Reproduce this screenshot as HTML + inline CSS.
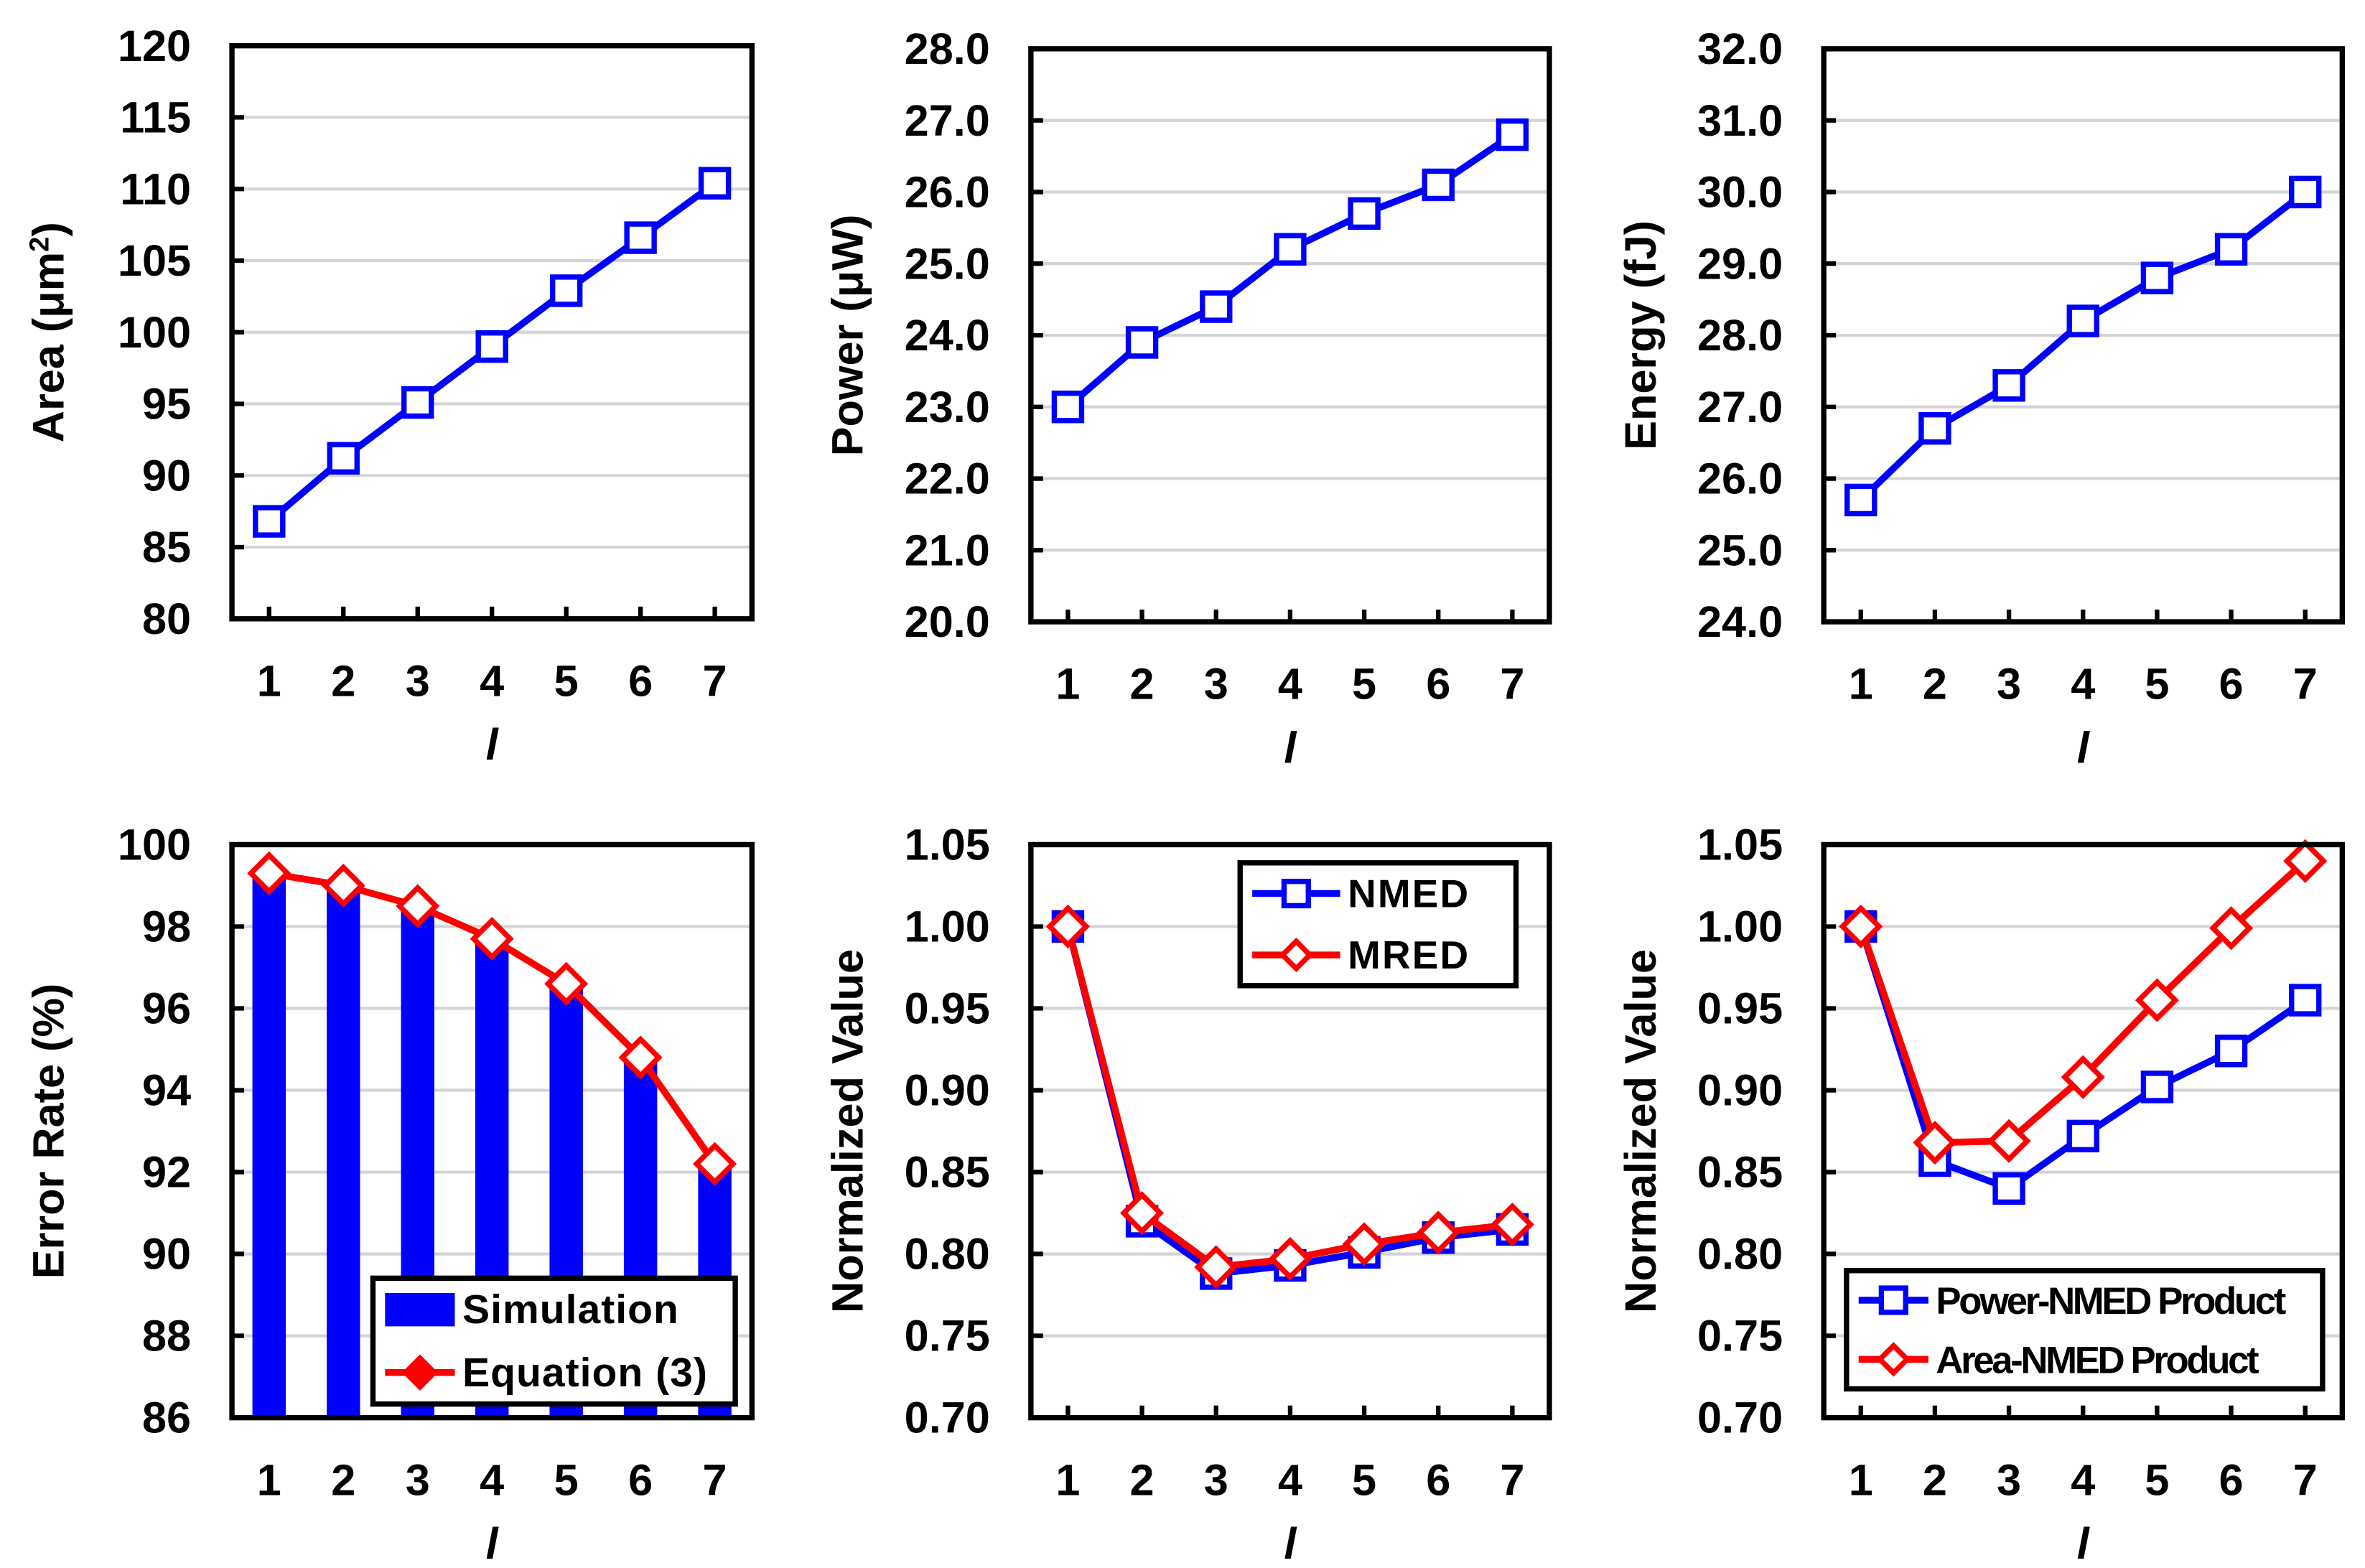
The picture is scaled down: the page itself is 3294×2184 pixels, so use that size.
<!DOCTYPE html>
<html><head><meta charset="utf-8"><style>
html,body{margin:0;padding:0;background:#fff;}
svg{display:block;font-family:"Liberation Sans",Arial,sans-serif;font-weight:bold;}
</style></head><body>
<svg id="fig" xmlns="http://www.w3.org/2000/svg" width="3294" height="2184" viewBox="0 0 1560 1034"></svg>
<script>
const cats = [1,2,3,4,5,6,7];
const areaVals = [86.8,91.2,95.1,99.0,102.9,106.6,110.4];
const areaTicks = ["80","85","90","95","100","105","110","115","120"];
const powerVals = [23.0,23.9,24.4,25.2,25.7,26.1,26.8];
const powerTicks = ["20.0","21.0","22.0","23.0","24.0","25.0","26.0","27.0","28.0"];
const energyVals = [25.7,26.7,27.3,28.2,28.8,29.2,30.0];
const energyTicks = ["24.0","25.0","26.0","27.0","28.0","29.0","30.0","31.0","32.0"];
const simVals = [99.2,98.9,98.4,97.6,96.5,94.7,92.1];
const eqVals = [99.3,99.0,98.5,97.7,96.6,94.8,92.2];
const errTicks = ["86","88","90","92","94","96","98","100"];
const nmedVals = [1.0,0.820,0.788,0.793,0.801,0.810,0.815];
const mredVals = [1.0,0.825,0.792,0.797,0.806,0.813,0.818];
const normTicks = ["0.70","0.75","0.80","0.85","0.90","0.95","1.00","1.05"];
const pnVals = [1.0,0.857,0.840,0.872,0.902,0.924,0.955];
const anVals = [1.0,0.868,0.869,0.908,0.955,0.999,1.040];

const NS="http://www.w3.org/2000/svg";
const svg=document.getElementById('fig');
function mk(tag,attrs,parent,text){const e=document.createElementNS(NS,tag);for(const k in attrs)e.setAttribute(k,attrs[k]);if(text!==undefined)e.textContent=text;(parent||svg).appendChild(e);return e;}

function chart(o){
  const g=mk('g',{});
  
  
  const L=o.x0,R=o.x1,T=o.y0,B=o.y1;
  const tv=o.ticks.map(Number);const mn=tv[0],mx=tv[tv.length-1];
  const ys=v=>B-(v-mn)/(mx-mn)*(B-T);
  const step=(R-L)/cats.length;
  const xs=i=>L+step*(i+0.5);
  o.ticks.forEach((t,i)=>{
    const y=ys(tv[i]);
    if(i>0&&i<o.ticks.length-1){const gl=mk('line',{x1:L,x2:R,y1:y,y2:y,stroke:'#d4d4d4','stroke-width':2},g);
      }
    const tk=mk('line',{x1:L,x2:L+8,y1:y,y2:y,stroke:'#000','stroke-width':3},g);
    
    const tl=mk('text',{x:L-27,y:y+10,'text-anchor':'end','font-size':29},g,t);
    
  });
  cats.forEach((c,i)=>{
    const tk=mk('line',{x1:xs(i),x2:xs(i),y1:B,y2:B-8,stroke:'#000','stroke-width':3},g);
    
    const tl=mk('text',{x:xs(i),y:B+51,'text-anchor':'middle','font-size':29},g,String(c));
    
  });
  const xt=mk('text',{x:(L+R)/2,y:B+93,'text-anchor':'middle','font-size':29,'font-style':'italic'},g,'l');
  
  const yt=mk('text',{x:0,y:0,'text-anchor':'middle','font-size':29,transform:`translate(${L-111},${(T+B)/2}) rotate(-90)`},g);
  
  yt.innerHTML=o.ytitle;
  if(o.bars){o.bars.forEach((v,i)=>{const b=mk('rect',{x:xs(i)-11,y:ys(v),width:22,height:B-ys(v),fill:'#0000ff'},g);
    });}
  (o.series||[]).forEach(s=>{
    const pts=s.vals.map((v,i)=>xs(i)+','+ys(v)).join(' ');
    const pl=mk('polyline',{points:pts,fill:'none',stroke:s.color,'stroke-width':4.5,'stroke-linejoin':'round'},g);
    
    s.vals.forEach((v,i)=>{
      let m;
      if(s.marker==='sq') m=mk('rect',{x:xs(i)-9,y:ys(v)-9,width:18,height:18,fill:'#fff',stroke:s.color,'stroke-width':3.5},g);
      else {const x=xs(i),y=ys(v),r=12;m=mk('polygon',{points:`${x},${y-r} ${x+r},${y} ${x},${y+r} ${x-r},${y}`,fill:'#fff',stroke:s.color,'stroke-width':3.5},g);}
      
    });
  });
  const fr=mk('rect',{x:L,y:T,width:R-L,height:B-T,fill:'none',stroke:'#000','stroke-width':3.5},g);
  
  if(o.legend){const lg=o.legend;
    const lgG=mk('g',{},g);
    mk('rect',{x:lg.x,y:lg.y,width:lg.w,height:lg.h,fill:'#fff',stroke:'#000','stroke-width':3.5},lgG);
    lg.items.forEach((it,k)=>{
      const cy=lg.y+lg.h*(k*2+1)/4;
      const eG=mk('g',{},lgG);
      const x1=lg.x+8,x2=lg.x+lg.sw;
      if(it.type==='bar') mk('rect',{x:x1,y:cy-11,width:x2-x1,height:22,fill:it.color},eG);
      else{ mk('line',{x1:x1,x2:x2,y1:cy,y2:cy,stroke:it.color,'stroke-width':4.5},eG);
        const mx2=(x1+x2)/2;
        if(it.type==='sq') mk('rect',{x:mx2-8,y:cy-8,width:16,height:16,fill:'#fff',stroke:it.color,'stroke-width':3.5},eG);
        else if(it.type==='dfill') mk('polygon',{points:`${mx2},${cy-12} ${mx2+12},${cy} ${mx2},${cy+12} ${mx2-12},${cy}`,fill:it.color},eG);
        else mk('polygon',{points:`${mx2},${cy-9} ${mx2+9},${cy} ${mx2},${cy+9} ${mx2-9},${cy}`,fill:'#fff',stroke:it.color,'stroke-width':3.5},eG);}
      mk('text',{x:x2+5,y:cy+9,'font-size':lg.fs,'letter-spacing':lg.ls||0},eG,it.label);
    });
  }
}
chart({name:'area-chart',x0:153,x1:496,y0:30,y1:408,ticks:areaTicks,ytitle:'Area (μm<tspan dy="-10" font-size="18">2</tspan><tspan dy="10">)</tspan>',
  series:[{name:'area',vals:areaVals,color:'#0000ff',marker:'sq'}]});
chart({name:'power-chart',x0:680,x1:1022,y0:32,y1:410,ticks:powerTicks,ytitle:'Power (μW)',
  series:[{name:'power',vals:powerVals,color:'#0000ff',marker:'sq'}]});
chart({name:'energy-chart',x0:1203,x1:1545,y0:32,y1:410,ticks:energyTicks,ytitle:'Energy (fJ)',
  series:[{name:'energy',vals:energyVals,color:'#0000ff',marker:'sq'}]});
chart({name:'error-rate-chart',x0:153,x1:496,y0:557,y1:935,ticks:errTicks,ytitle:'Error Rate (%)',bars:simVals,
  series:[{name:'equation',vals:eqVals,color:'#ff0000',marker:'d'}],
  legend:{x:246,y:843,w:239,h:83,sw:54,fs:27,ls:0.5,items:[{type:'bar',color:'#0000ff',label:'Simulation'},{type:'dfill',color:'#ff0000',label:'Equation (3)'}]}});
chart({name:'nmed-mred-chart',x0:680,x1:1022,y0:557,y1:935,ticks:normTicks,ytitle:'Normalized Value',
  series:[{name:'nmed',vals:nmedVals,color:'#0000ff',marker:'sq'},{name:'mred',vals:mredVals,color:'#ff0000',marker:'d'}],
  legend:{x:818,y:569,w:182,h:81,sw:66,fs:26,ls:1,items:[{type:'sq',color:'#0000ff',label:'NMED'},{type:'d',color:'#ff0000',label:'MRED'}]}});
chart({name:'product-chart',x0:1203,x1:1545,y0:557,y1:935,ticks:normTicks,ytitle:'Normalized Value',
  series:[{name:'power-nmed',vals:pnVals,color:'#0000ff',marker:'sq'},{name:'area-nmed',vals:anVals,color:'#ff0000',marker:'d'}],
  legend:{x:1218,y:838,w:314,h:78,sw:54,fs:25,ls:-1.6,items:[{type:'sq',color:'#0000ff',label:'Power-NMED Product'},{type:'d',color:'#ff0000',label:'Area-NMED Product'}]}});
</script>
</body></html>
